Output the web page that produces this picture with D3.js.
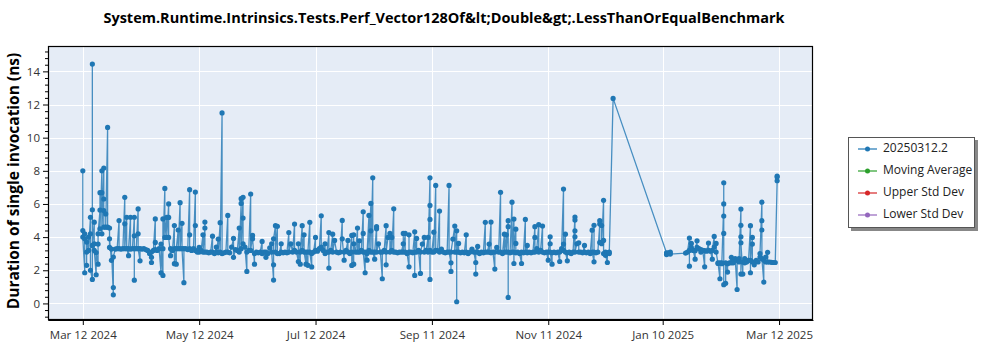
<!DOCTYPE html>
<html><head><meta charset="utf-8">
<script src="https://cdn.jsdelivr.net/npm/d3@7"></script>
<style>body{margin:0;background:#fff;} svg{display:block;font-family:"Open Sans",sans-serif;}</style>
</head><body><svg id="chart" width="1000" height="350"></svg>
<script>
const chartTitle = "System.Runtime.Intrinsics.Tests.Perf_Vector128Of&lt;Double&gt;.LessThanOrEqualBenchmark";
const yAxisTitle = "Duration of single invocation (ns)";
const seriesNames = ["20250312.2", "Moving Average", "Upper Std Dev", "Lower Std Dev"];
const seriesColors = ["#1f77b4", "#2ca02c", "#d62728", "#9467bd"];
const xTickDates = ["2024-03-12", "2024-05-12", "2024-07-12", "2024-09-11", "2024-11-11", "2025-01-10", "2025-03-12"];
const xTickLabels = ["Mar 12 2024", "May 12 2024", "Jul 12 2024", "Sep 11 2024", "Nov 11 2024", "Jan 10 2025", "Mar 12 2025"];
const yTicks = [0, 2, 4, 6, 8, 10, 12, 14];

// one entry per run day; several runs on the same day are listed in order
const runDates = [
"2024-03-12","2024-03-13","2024-03-14","2024-03-15","2024-03-16","2024-03-17","2024-03-18","2024-03-19","2024-03-20","2024-03-21",
"2024-03-22","2024-03-23","2024-03-24","2024-03-25","2024-03-26","2024-03-27","2024-03-28","2024-03-29","2024-03-30","2024-03-31",
"2024-04-01","2024-04-02","2024-04-03","2024-04-04","2024-04-05","2024-04-06","2024-04-07","2024-04-08","2024-04-09","2024-04-10",
"2024-04-11","2024-04-12","2024-04-13","2024-04-14","2024-04-15","2024-04-16","2024-04-17","2024-04-18","2024-04-19","2024-04-20",
"2024-04-21","2024-04-22","2024-04-23","2024-04-24","2024-04-25","2024-04-26","2024-04-27","2024-04-28","2024-04-29","2024-04-30",
"2024-05-01","2024-05-02","2024-05-03","2024-05-04","2024-05-05","2024-05-06","2024-05-07","2024-05-08","2024-05-09","2024-05-10",
"2024-05-11","2024-05-12","2024-05-13","2024-05-14","2024-05-15","2024-05-16","2024-05-17","2024-05-18","2024-05-19","2024-05-20",
"2024-05-21","2024-05-22","2024-05-23","2024-05-24","2024-05-25","2024-05-26","2024-05-27","2024-05-28","2024-05-29","2024-05-30",
"2024-05-31","2024-06-01","2024-06-02","2024-06-03","2024-06-04","2024-06-05","2024-06-06","2024-06-07","2024-06-08","2024-06-09",
"2024-06-10","2024-06-11","2024-06-12","2024-06-13","2024-06-14","2024-06-15","2024-06-16","2024-06-17","2024-06-18","2024-06-19",
"2024-06-20","2024-06-21","2024-06-22","2024-06-23","2024-06-24","2024-06-25","2024-06-26","2024-06-27","2024-06-28","2024-06-29",
"2024-06-30","2024-07-01","2024-07-02","2024-07-03","2024-07-04","2024-07-05","2024-07-06","2024-07-07","2024-07-08","2024-07-09",
"2024-07-10","2024-07-11","2024-07-12","2024-07-13","2024-07-14","2024-07-15","2024-07-16","2024-07-17","2024-07-18","2024-07-19",
"2024-07-20","2024-07-21","2024-07-22","2024-07-23","2024-07-24","2024-07-25","2024-07-26","2024-07-27","2024-07-28","2024-07-29",
"2024-07-30","2024-07-31","2024-08-01","2024-08-02","2024-08-03","2024-08-04","2024-08-05","2024-08-06","2024-08-07","2024-08-08",
"2024-08-09","2024-08-10","2024-08-11","2024-08-12","2024-08-13","2024-08-14","2024-08-15","2024-08-16","2024-08-17","2024-08-18",
"2024-08-19","2024-08-20","2024-08-21","2024-08-22","2024-08-23","2024-08-24","2024-08-25","2024-08-26","2024-08-27","2024-08-28",
"2024-08-29","2024-08-30","2024-08-31","2024-09-01","2024-09-02","2024-09-03","2024-09-04","2024-09-05","2024-09-06","2024-09-07",
"2024-09-08","2024-09-09","2024-09-10","2024-09-11","2024-09-12","2024-09-13","2024-09-14","2024-09-15","2024-09-16","2024-09-17",
"2024-09-18","2024-09-19","2024-09-20","2024-09-21","2024-09-22","2024-09-23","2024-09-24","2024-09-25","2024-09-26","2024-09-27",
"2024-09-28","2024-09-29","2024-09-30","2024-10-01","2024-10-02","2024-10-03","2024-10-04","2024-10-05","2024-10-06","2024-10-07",
"2024-10-08","2024-10-09","2024-10-10","2024-10-11","2024-10-12","2024-10-13","2024-10-14","2024-10-15","2024-10-16","2024-10-17",
"2024-10-18","2024-10-19","2024-10-20","2024-10-21","2024-10-22","2024-10-23","2024-10-24","2024-10-25","2024-10-26","2024-10-27",
"2024-10-28","2024-10-29","2024-10-30","2024-10-31","2024-11-01","2024-11-02","2024-11-03","2024-11-04","2024-11-05","2024-11-06",
"2024-11-07","2024-11-08","2024-11-09","2024-11-10","2024-11-11","2024-11-12","2024-11-13","2024-11-14","2024-11-15","2024-11-16",
"2024-11-17","2024-11-18","2024-11-19","2024-11-20","2024-11-21","2024-11-22","2024-11-23","2024-11-24","2024-11-25","2024-11-26",
"2024-11-27","2024-11-28","2024-11-29","2024-11-30","2024-12-01","2024-12-02","2024-12-03","2024-12-04","2024-12-05","2024-12-06",
"2024-12-07","2024-12-08","2024-12-09","2024-12-10","2024-12-11","2024-12-12","2024-12-13","2024-12-15",
"2025-01-12","2025-01-13","2025-01-14","2025-01-22","2025-01-23","2025-01-24","2025-01-25","2025-01-26","2025-01-27","2025-01-28",
"2025-01-29","2025-01-30","2025-01-31","2025-02-01","2025-02-02","2025-02-03","2025-02-04","2025-02-05","2025-02-06","2025-02-07",
"2025-02-08","2025-02-09","2025-02-10","2025-02-11","2025-02-12","2025-02-13","2025-02-14","2025-02-15","2025-02-16","2025-02-17",
"2025-02-18","2025-02-19","2025-02-20","2025-02-21","2025-02-22","2025-02-23","2025-02-24","2025-02-25","2025-02-26","2025-02-27",
"2025-02-28","2025-03-01","2025-03-02","2025-03-03","2025-03-04","2025-03-05","2025-03-06","2025-03-07","2025-03-08","2025-03-09",
"2025-03-10","2025-03-11"
];
const runValues = [
[8.0,4.4,4.0],[1.85,4.2,3.9],[3.7,2.3,3.1],[4.0,3.2],[5.2,4.2,2.0],[1.45,14.44,5.65,3.5],[4.9,3.6,3.2],[1.73,3.07],[2.37,3.58,4.2],[5.63,6.68,4.5],
[8.0,6.68,4.2],[8.17,6.3,4.6,5.6],[5.4,4.6],[10.62,4.6],[4.55,3.38,3.9],[2.6,3.28],[0.52,0.96,2.8],[3.28],[3.3],[5.0,3.3],
[3.28],[3.3],[6.4,4.8,3.3],[5.2,3.3],[2.88,3.3],[5.2,3.28],[3.3],[5.2,4.08,1.4,3.3],[3.3],[5.7,4.2,3.3],
[2.57,3.3],[3.28],[3.3],[3.25],[3.2],[3.0],[2.78,2.47,3.1],[3.2],[5.1,3.68,3.25],[3.2],
[3.3],[1.85,3.58],[1.69,5.1,3.3],[6.94,3.98],[5.19,3.98],[6.0,5.19,3.98],[2.88,3.3],[3.2],[4.7,2.4,3.3],[2.37,3.3],
[4.43,3.3],[6.08,3.3],[4.83,3.3],[1.25,3.3],[3.3],[3.25],[6.86,4.14,3.3],[3.2],[3.3],[6.72,4.7,3.2],
[3.1],[3.38,3.1],[3.2],[4.14,3.1],[4.55,4.91,3.1],[3.1],[3.05],[3.1],[4.06,3.1],[3.0],
[3.4,3.1],[3.88,3.05],[4.87,3.1],[11.49,3.0],[3.05],[3.1],[5.31,3.1],[3.05],[3.4],[3.92,2.78],
[3.25],[3.2],[4.55,3.1],[6.03,6.32,3.3],[6.4,5.15,3.6],[3.4],[1.93,3.1],[3.2],[6.6,3.2],[4.1,3.9],
[2.37,3.0],[3.1],[3.05],[3.1],[3.74,3.0],[3.1],[2.78,3.1],[3.0],[3.35],[3.6,3.1],
[1.41,2.33,3.9],[4.69,3.1],[4.65,3.0],[3.0],[3.6,3.1],[3.05],[3.1],[3.05],[4.28,3.1],[3.6],
[3.1],[4.79,3.2],[3.1],[2.53,3.6],[2.37,3.1],[4.69,3.2],[4.14,3.1],[2.37,3.1],[2.3,3.1],[4.89,3.1],
[2.2,3.0],[3.1],[3.98,3.2],[3.15],[3.3],[5.29,3.4],[3.2],[3.6,3.0],[3.1],[4.28,2.13,3.1],
[3.2],[4.18,3.1],[3.8],[3.1],[3.05],[3.1],[5.01,3.9],[2.61,3.1],[3.2],[3.8,3.1],
[3.0],[4.1,2.29,3.1],[2.37,4.14,3.6],[3.1],[4.55,3.1],[3.78,3.1],[3.2],[5.53,4.22,3.1],[1.85,3.1],[2.61,3.0],
[5.31,3.2],[6.03,4.38,3.1],[7.58,3.1],[2.67,3.1],[4.63,4.5,3.1],[3.6],[3.1],[1.49,3.1],[3.2],[4.69,2.33,3.1],
[3.98],[4.22,3.1],[3.98,3.2],[5.71,3.1],[3.1],[3.05],[3.1],[3.1],[3.6,4.22,3.1],[4.22,3.1],
[3.0],[2.21,4.14,3.1],[3.1],[3.05],[4.32,1.69,3.1],[3.92,3.1],[3.2],[1.81,3.1],[3.58],[3.98,3.1],
[3.2],[3.98,3.1],[7.58,5.91,5.07,1.45,3.2],[3.1],[4.3,3.1],[7.12,3.2],[3.18],[5.57,3.1],[3.28],[3.1],
[3.05],[3.1],[7.12,3.1],[2.45,1.93,3.1],[3.88],[4.67,3.1],[4.38,0.1,3.1],[3.62,3.1],[3.05],[3.1],
[3.05],[4.14,3.1],[3.0],[3.1],[3.28],[3.1],[2.47,1.77,3.1],[3.44,3.1],[3.0],[3.1],
[3.05],[4.89,3.1],[3.1],[3.58,3.1],[4.91,3.05],[3.1],[2.07,3.1],[3.38],[3.1],[6.7,3.1],
[3.0],[4.18,3.1],[4.14,3.1],[4.99,4.63,0.36,3.1],[3.05],[6.11,3.1],[5.09,2.41,3.1],[4.48,3.62,3.05],[3.1],[3.0],
[2.41,3.1],[3.05],[5.07,3.1],[3.5,3.05],[3.1],[3.05],[3.1],[4.63,3.98,3.1],[3.3],[4.75,3.1],
[3.2],[4.67,3.1],[3.05],[3.1],[2.61,3.1],[4.02,3.6,3.1],[2.37,3.05],[3.1],[3.05],[3.1],
[2.53,3.1],[3.3],[6.9,3.58,3.2],[4.18,3.1],[2.57,3.05],[3.1],[3.0],[3.1],[5.21,5.03,4.02,4.38,3.1],[3.6],
[3.66,3.1],[3.1],[3.05],[3.5,3.1],[3.05],[3.1],[3.0],[4.42,3.1],[2.51,4.71,3.1],[3.05],
[3.1],[4.79,3.68,4.99],[4.7,3.6],[6.22,3.8,3.0],[3.1,2.9],[2.47,3.05],[3.0,3.1],[12.37],
[3.05,2.95],[3.0,3.05],[3.1,2.98],[3.04],[3.1],[3.94,2.25,3.2],[3.38,3.62],[3.2],[2.67,3.18],[3.78,3.38],
[3.3],[3.1,3.25],[3.2],[2.21,3.18],[3.15],[3.64,3.2],[3.15],[2.67,3.2],[4.04,3.4],[3.62,3.1],
[2.41,2.45],[1.49,2.45],[2.4,2.45],[6.0,5.27,4.22,7.28,1.13],[1.21,2.45],[1.89,2.4],[2.45],[2.78,2.45],[2.6,2.45],[2.7],
[0.84,2.6],[2.7,2.5],[5.69,4.71,1.77,4.02,3.66],[1.77,2.5],[2.7,2.45],[2.5],[2.6],[4.69,1.85,2.6],[3.98,3.58,2.5],[2.33,2.5],
[2.6],[2.5],[2.8,3.0],[6.11,4.99,4.43,2.7],[1.29,2.6],[2.5,2.8],[3.08,2.5],[2.5],[2.48],[2.47],
[2.47],[7.4,7.62,7.68]
];

const W = 1000, H = 350;
const plot = {left: 48, right: 813, top: 46, bottom: 320};
const svg = d3.select("#chart");
const parse = d3.utcParse("%Y-%m-%d");

const points = [];
runDates.forEach((d, i) => runValues[i].forEach(v => points.push({date: parse(d), value: v})));

const x = d3.scaleUtc()
  .domain([Date.UTC(2024, 1, 22, 18), Date.UTC(2025, 2, 29, 19)])
  .range([plot.left, plot.right]);
const y = d3.scaleLinear().domain([-1, 15.53]).range([plot.bottom, plot.top]);
const xTicks = xTickDates.map(parse);

// background
svg.append("rect").attr("x", plot.left).attr("y", plot.top)
  .attr("width", plot.right - plot.left).attr("height", plot.bottom - plot.top)
  .attr("fill", "#e5ecf6");

// grid
const grid = svg.append("g").attr("stroke", "#fff").attr("stroke-width", 1);
grid.selectAll("line.gy").data(yTicks).join("line")
  .attr("x1", plot.left).attr("x2", plot.right)
  .attr("y1", d => Math.round(y(d)) + 0.5).attr("y2", d => Math.round(y(d)) + 0.5);
grid.selectAll("line.gx").data(xTicks).join("line")
  .attr("y1", plot.top).attr("y2", plot.bottom)
  .attr("x1", d => Math.round(x(d)) + 0.5).attr("x2", d => Math.round(x(d)) + 0.5);

// clip
svg.append("clipPath").attr("id", "clip").append("rect")
  .attr("x", plot.left).attr("y", plot.top)
  .attr("width", plot.right - plot.left).attr("height", plot.bottom - plot.top);

const line = d3.line().x(d => x(d.date)).y(d => y(d.value));
const g = svg.append("g").attr("clip-path", "url(#clip)");
g.append("path").datum(points).attr("d", line)
  .attr("fill", "none").attr("stroke", seriesColors[0])
  .attr("stroke-width", 1.3).attr("stroke-opacity", 0.8);
g.selectAll("circle").data(points).join("circle")
  .attr("cx", d => x(d.date)).attr("cy", d => y(d.value)).attr("r", 2.6)
  .attr("fill", seriesColors[0]);

// axes
const xAxis = d3.axisBottom(x).tickValues(xTicks)
  .tickFormat((d, i) => xTickLabels[i]).tickSize(5).tickSizeOuter(0);
const gx = svg.append("g").attr("transform", `translate(0,${plot.bottom})`).call(xAxis);
gx.selectAll("text").attr("font-size", 11.5).attr("fill", "#333").attr("dy", "0.95em")
  .attr("font-family", '"Open Sans", sans-serif');

const yAxis = d3.axisLeft(y).tickValues(yTicks).tickSize(5).tickSizeOuter(0);
const gy = svg.append("g").attr("transform", `translate(${plot.left},0)`).call(yAxis);
gy.selectAll("text").attr("font-size", 11.5).attr("fill", "#333")
  .attr("font-family", '"Open Sans", sans-serif');

const minorTicks = d3.range(-0.8, 15.5, 0.4).map(v => Math.round(v * 10) / 10)
  .filter(v => Math.abs(v / 2 - Math.round(v / 2)) > 0.01);
const gyMinor = d3.axisLeft(y).tickValues(minorTicks).tickSize(3).tickFormat("").tickSizeOuter(0);
svg.append("g").attr("transform", `translate(${plot.left},0)`).call(gyMinor)
  .select(".domain").remove();

// frame
svg.append("rect").attr("x", plot.left + 0.5).attr("y", plot.top + 0.5)
  .attr("width", plot.right - plot.left - 1).attr("height", plot.bottom - plot.top - 1)
  .attr("fill", "none").attr("stroke", "#000").attr("stroke-width", 1.2);

// title
svg.append("text").attr("x", 444).attr("y", 23).attr("text-anchor", "middle")
  .attr("font-size", 14.5).attr("font-weight", "bold").attr("fill", "#000")
  .text(chartTitle);

svg.append("text")
  .attr("transform", `translate(15,${(plot.top + plot.bottom) / 2 - 2}) rotate(-90)`)
  .attr("text-anchor", "middle").attr("dominant-baseline", "middle")
  .attr("font-size", 15.5).attr("font-weight", "bold").attr("fill", "#000")
  .text(yAxisTitle);

// legend
const lg = svg.append("g");
lg.append("rect").attr("x", 851).attr("y", 140).attr("width", 127).attr("height", 91).attr("fill", "#888");
lg.append("rect").attr("x", 848.5).attr("y", 137.5).attr("width", 126).attr("height", 90)
  .attr("fill", "#fff").attr("stroke", "#555");
const items = lg.selectAll("g.item").data(seriesNames).join("g")
  .attr("transform", (d, i) => `translate(0,${149 + i * 22})`);
items.append("line").attr("x1", 858).attr("x2", 877).attr("y1", 0).attr("y2", 0)
  .attr("stroke", (d, i) => seriesColors[i]).attr("stroke-width", 1.2);
items.append("circle").attr("cx", 867.5).attr("cy", 0).attr("r", 2.5)
  .attr("fill", (d, i) => seriesColors[i]);
items.append("text").attr("x", 883).attr("y", 0).attr("dominant-baseline", "middle")
  .attr("font-size", 12).attr("fill", "#222").text(d => d);
</script>
</body></html>
